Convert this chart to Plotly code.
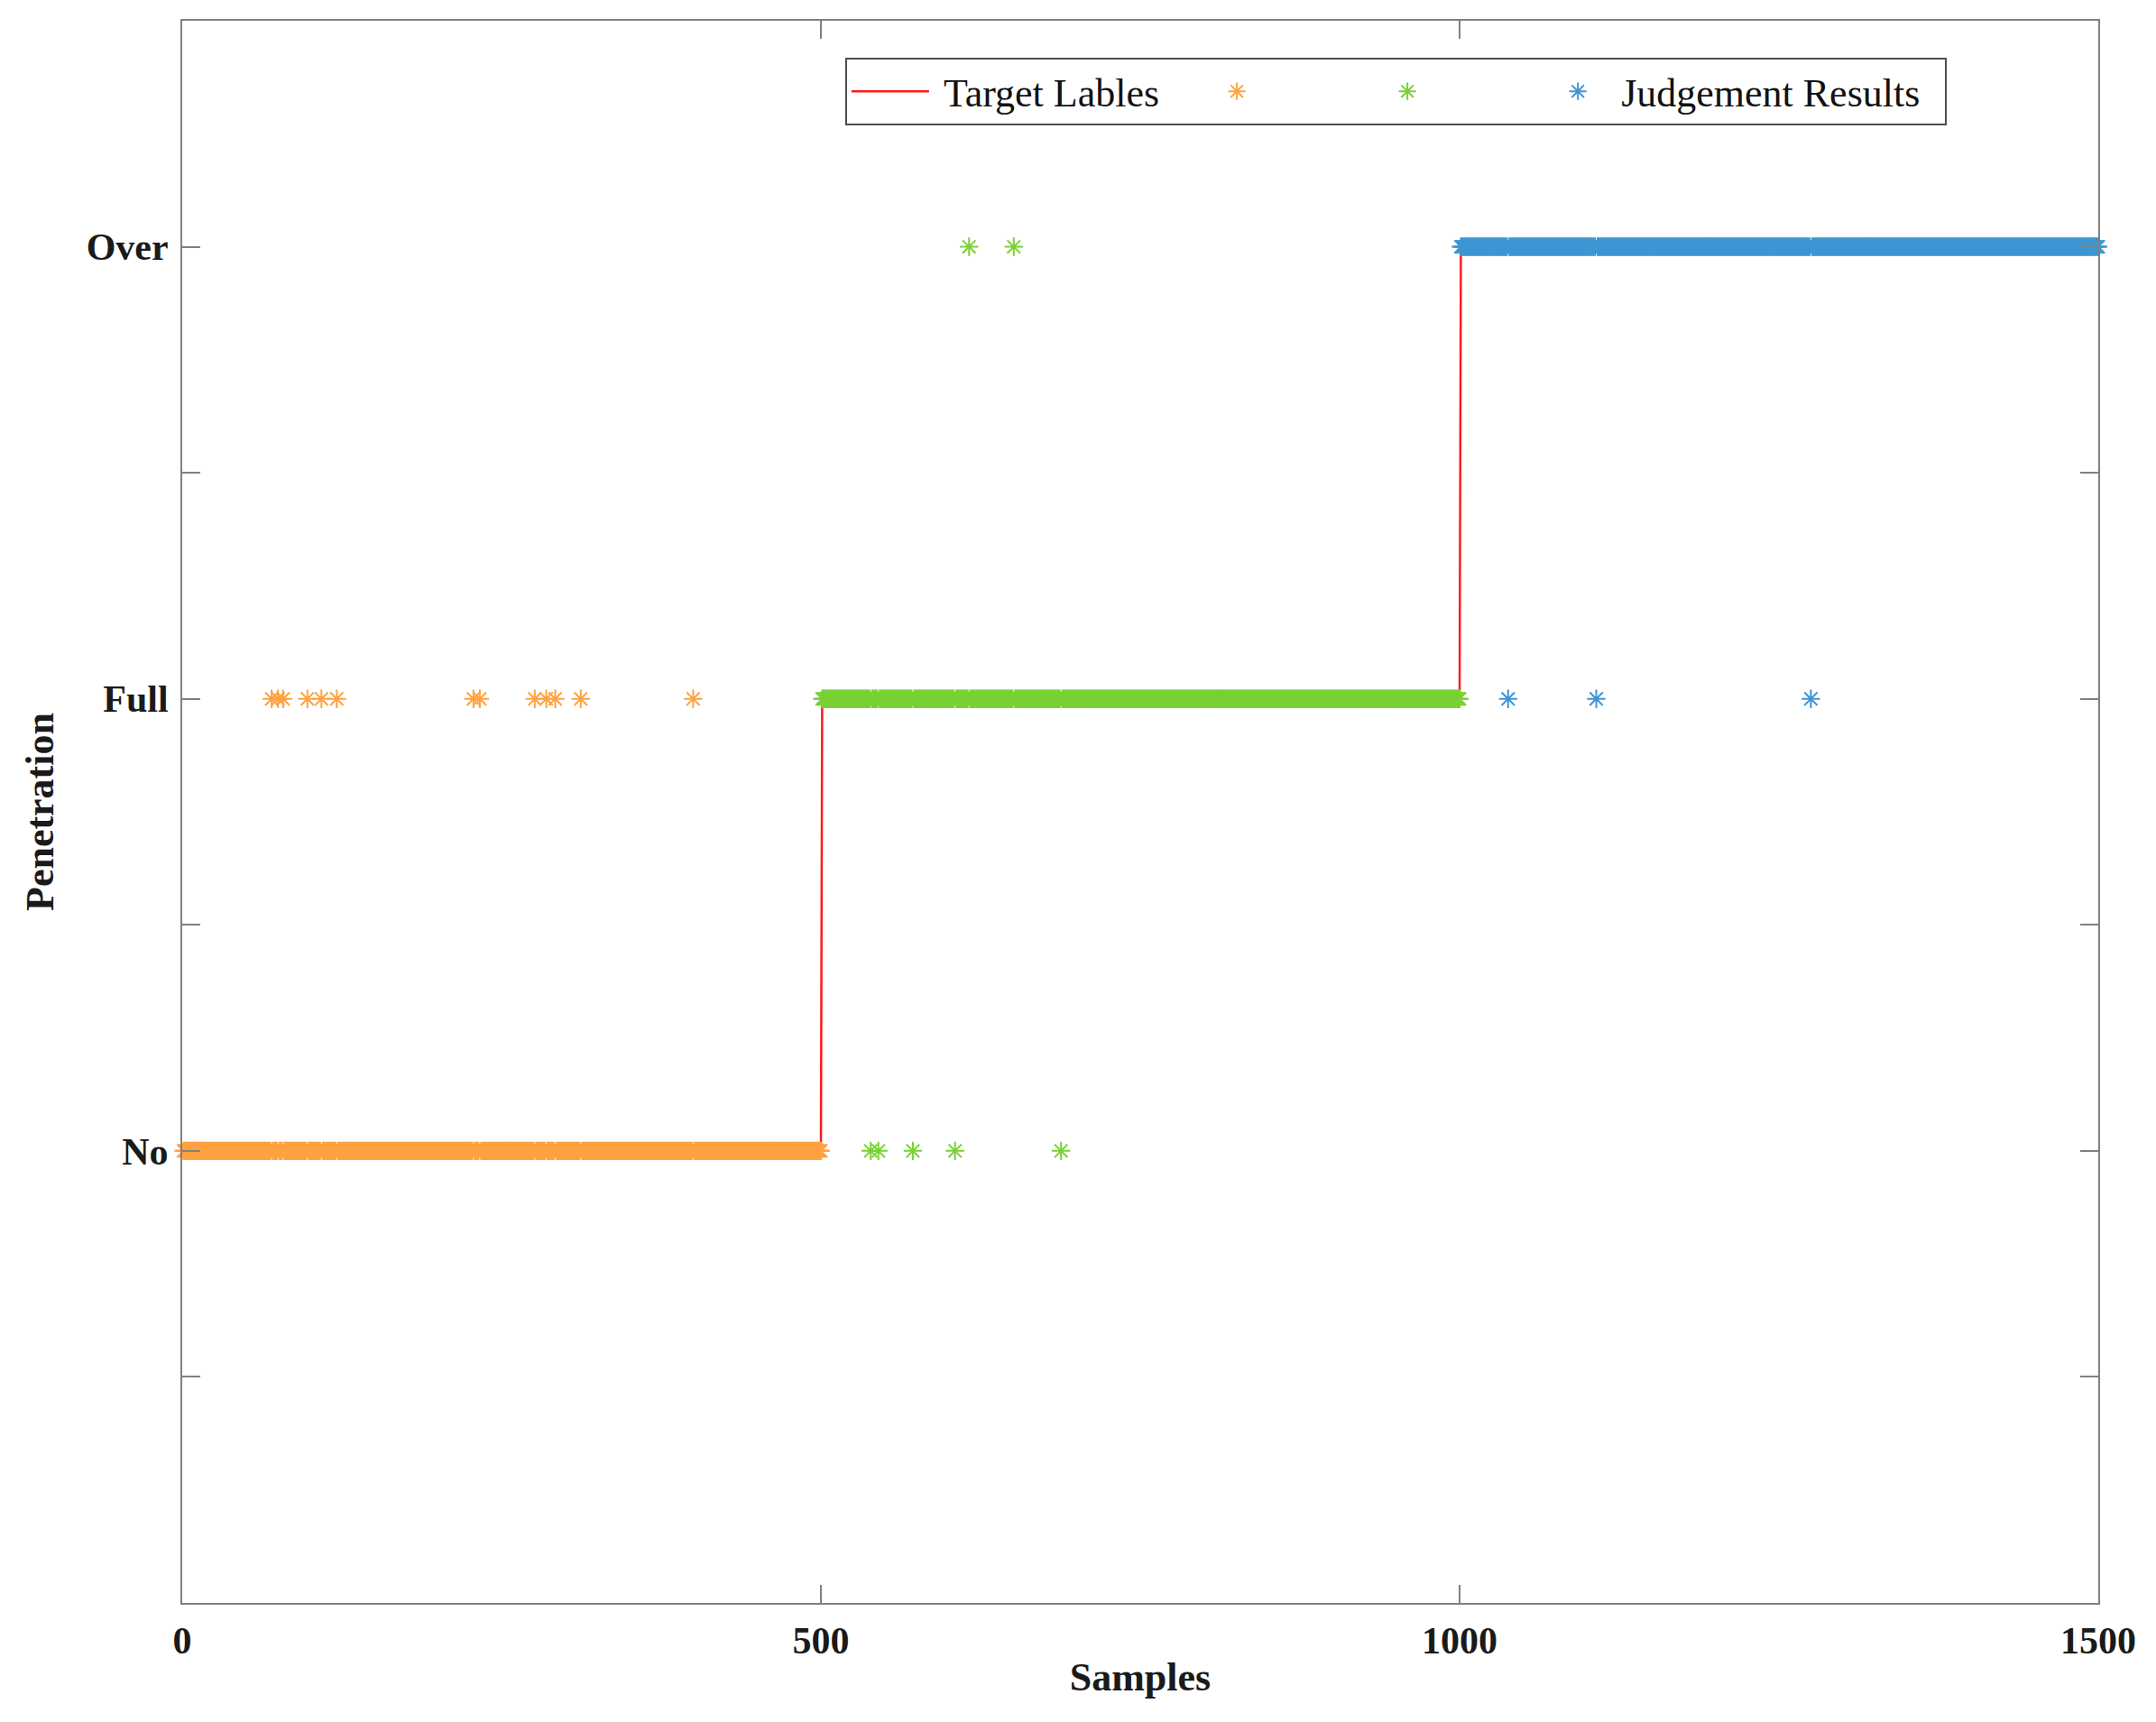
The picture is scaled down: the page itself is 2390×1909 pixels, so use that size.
import plotly.graph_objects as go

# ---- data ----
class_values = [1, 2, 3]                  # No, Full, Over
class_starts = [1, 501, 1001]
class_ends = [500, 1000, 1500]
class_colors = ["#FFA23F", "#79D134", "#3D96D3"]

# misclassified samples: (sample index, predicted value)
mis_orange = [70, 75, 79, 98, 109, 121, 228, 233, 276, 285, 292, 312, 400]   # No -> Full
mis_orange_val = [2] * len(mis_orange)
mis_green_x = [539, 545, 572, 605, 688, 616, 651]                           # Full -> No / Over
mis_green_val = [1, 1, 1, 1, 1, 3, 3]
mis_blue = [1038, 1107, 1275]                                                # Over -> Full
mis_blue_val = [2, 2, 2]

y_tickvals = [0, 0.5, 1, 1.5, 2, 2.5, 3, 3.5]
y_ticktext = ["", "", "No", "", "Full", "", "Over", ""]
x_tickvals = [0, 500, 1000, 1500]

# target step line
tx, ty = [], []
for v, s, e in zip(class_values, class_starts, class_ends):
    tx += [s, e]
    ty += [v, v]

misses = [
    dict(zip(mis_orange, mis_orange_val)),
    dict(zip(mis_green_x, mis_green_val)),
    dict(zip(mis_blue, mis_blue_val)),
]

FONT = "Liberation Serif"
NB = "\u00a0"
names = [NB * 8, NB * 8, "Judgement Results" + NB * 2]

fig = go.Figure()
fig.add_trace(go.Scatter(x=tx, y=ty, mode="lines", name=NB + "Target Lables" + NB * 3,
                         line=dict(color="#FF1A1A", width=2.5)))
for i, (v, s, e) in enumerate(zip(class_values, class_starts, class_ends)):
    xs = list(range(s, e + 1))
    ys = [misses[i].get(x, v) for x in xs]
    fig.add_trace(go.Scatter(x=xs, y=ys, mode="markers", name=names[i], cliponaxis=False,
                             marker=dict(symbol="asterisk-open", size=17, color=class_colors[i],
                                         line=dict(color=class_colors[i], width=2))))

axis_common = dict(showline=True, linecolor="#808080", linewidth=2, mirror="ticks",
                   ticks="inside", ticklen=20, tickwidth=2, tickcolor="#808080",
                   showgrid=False, zeroline=False,
                   tickfont=dict(family=FONT, size=42, color="#1a1a1a", weight="bold"),
                   title_font=dict(family=FONT, size=44, color="#1a1a1a", weight="bold"))

fig.update_xaxes(range=[0, 1500], tickvals=x_tickvals, ticklabelstandoff=4,
                 title=dict(text="Samples", standoff=2), **axis_common)
fig.update_yaxes(range=[0, 3.5], tickvals=y_tickvals, ticktext=y_ticktext, ticklabelstandoff=5,
                 title=dict(text="Penetration", standoff=22), **axis_common)

fig.update_layout(
    width=2374, height=1893,
    margin=dict(l=194, r=56, t=15, b=124),
    paper_bgcolor="white", plot_bgcolor="white",
    showlegend=True,
    legend=dict(orientation="h", x=0.346, y=0.9766, xanchor="left", yanchor="top",
                bgcolor="white", bordercolor="#4d4d4d", borderwidth=2, itemwidth=86,
                font=dict(family=FONT, size=44, color="#111111")),
)

fig.write_html("out.html")
